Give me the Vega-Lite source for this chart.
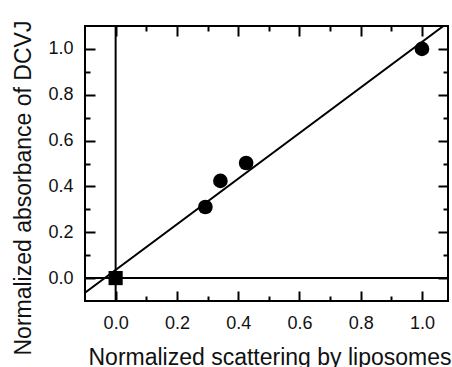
{
  "$schema": "https://vega.github.io/schema/vega-lite/v6.json",
  "padding": {"left": 11, "top": 19, "right": 5, "bottom": 5},
  "background": "white",
  "config": {
    "view": {"stroke": "black", "strokeWidth": 2},
    "axis": {
      "domain": false,
      "grid": false,
      "ticks": true,
      "tickOpacity": 1,
      "labelFont": "Liberation Sans",
      "labelFontSize": 18,
      "labelColor": "#111111",
      "tickColor": "#000000",
      "tickWidth": 2,
      "labelOverlap": false,
      "labelFlush": false,
      "titleFont": "Liberation Sans",
      "titleFontSize": 23,
      "titleFontWeight": "normal",
      "titleColor": "#111111",
      "zindex": 1
    }
  },
  "datasets": {
    "pts": [
      {"x": 0.293, "y": 0.31},
      {"x": 0.342, "y": 0.424},
      {"x": 0.426, "y": 0.502},
      {"x": 1.0, "y": 1.0}
    ],
    "sq": [{"x": 0, "y": 0}],
    "fit": [{"x": -0.1, "y": -0.064}, {"x": 1.07, "y": 1.1}],
    "zero": [{"v": 0}]
  },
  "vconcat": [
    {
      "width": 363,
      "height": 275,
      "resolve": {"axis": {"x": "independent", "y": "independent"}},
      "layer": [
        {
          "data": {"name": "zero"},
          "mark": {"type": "rule", "color": "black", "strokeWidth": 2},
          "encoding": {
            "x": {"field": "v", "type": "quantitative", "scale": {"domain": [-0.1, 1.085], "nice": false, "zero": false}, "axis": {
              "orient": "top", "values": [0.1, 0.3, 0.5, 0.7, 0.9], "labels": false, "ticks": true, "tickSize": 5, "offset": -5, "title": null
            }}
          }
        },
        {
          "data": {"name": "zero"},
          "mark": {"type": "rule", "color": "black", "strokeWidth": 2},
          "encoding": {
            "y": {"field": "v", "type": "quantitative", "scale": {"domain": [-0.1, 1.1], "nice": false, "zero": false}, "axis": {
              "orient": "right", "values": [0.1, 0.3, 0.5, 0.7, 0.9], "labels": false, "ticks": true, "tickSize": 5, "offset": -5, "title": null
            }}
          }
        },
        {
          "data": {"name": "fit"},
          "mark": {"type": "line", "color": "black", "strokeWidth": 2, "clip": true},
          "encoding": {
            "x": {"field": "x", "type": "quantitative", "axis": {
              "orient": "bottom", "values": [0, 0.2, 0.4, 0.6, 0.8, 1.0], "format": ".1f",
              "ticks": true, "tickSize": 10, "offset": -10, "labelPadding": 13,
              "title": "Normalized scattering by liposomes",
              "titleX": 184.5, "titleY": 73, "titleAlign": "center", "titleBaseline": "alphabetic"
            }},
            "y": {"field": "y", "type": "quantitative", "axis": {
              "orient": "left", "values": [0, 0.2, 0.4, 0.6, 0.8, 1.0], "format": ".1f",
              "ticks": true, "tickSize": 10, "offset": -10, "labelPadding": 12,
              "title": "Normalized absorbance of DCVJ",
              "titleX": -64.5, "titleY": 329, "titleAngle": 270, "titleAlign": "left", "titleBaseline": "alphabetic"
            }}
          }
        },
        {
          "data": {"name": "pts"},
          "mark": {"type": "circle", "color": "black", "opacity": 1, "size": 215},
          "encoding": {
            "x": {"field": "x", "type": "quantitative", "axis": {
              "orient": "bottom", "values": [0.1, 0.3, 0.5, 0.7, 0.9], "labels": false, "ticks": true, "tickSize": 5, "offset": -5, "title": null
            }},
            "y": {"field": "y", "type": "quantitative", "axis": {
              "orient": "left", "values": [0.1, 0.3, 0.5, 0.7, 0.9], "labels": false, "ticks": true, "tickSize": 5, "offset": -5, "title": null
            }}
          }
        },
        {
          "data": {"name": "sq"},
          "mark": {"type": "square", "color": "black", "opacity": 1, "size": 200},
          "encoding": {
            "x": {"field": "x", "type": "quantitative", "axis": {
              "orient": "top", "values": [0, 0.2, 0.4, 0.6, 0.8, 1.0], "labels": false, "ticks": true, "tickSize": 10, "offset": -10, "title": null
            }},
            "y": {"field": "y", "type": "quantitative", "axis": {
              "orient": "right", "values": [0, 0.2, 0.4, 0.6, 0.8, 1.0], "labels": false, "ticks": true, "tickSize": 10, "offset": -10, "title": null
            }}
          }
        }
      ]
    }
  ]
}
